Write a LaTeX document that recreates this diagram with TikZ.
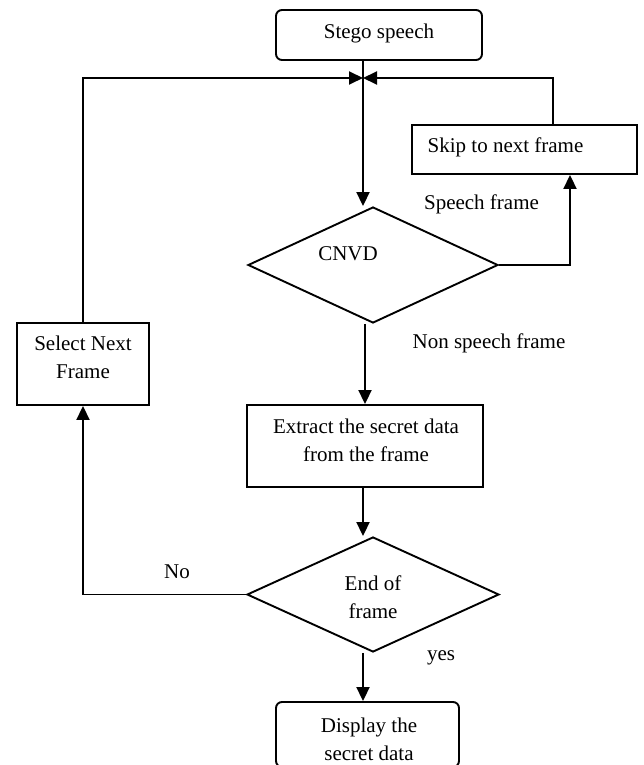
\documentclass[tikz,border=0pt]{standalone}
\usepackage{fontspec}
\setmainfont{Liberation Serif}
\usetikzlibrary{shapes.geometric,arrows.meta}
\begin{document}
\begin{tikzpicture}[x=1pt,y=-1pt,
  line width=1.9pt,
  box/.style={draw,rectangle,inner sep=0pt},
  rbox/.style={draw,rectangle,rounded corners=6pt,inner sep=0pt},
  dia/.style={draw,diamond,inner sep=0pt},
  txt/.style={font=\fontsize{21}{28}\selectfont,align=center,inner sep=0pt},
  arr/.style={-{Triangle[length=14pt,width=13pt]}}]
\useasboundingbox (0,0) rectangle (644,765);
\clip (0,0) rectangle (644,765);

\node[rbox,minimum width=206pt,minimum height=50pt] (stego) at (379,35) {};
\node[box,minimum width=225pt,minimum height=49pt] (skip) at (524.5,149.5) {};
\node[box,minimum width=132pt,minimum height=82pt] (select) at (83,364) {};
\node[box,minimum width=236pt,minimum height=82pt] (extract) at (365,446) {};
\node[rbox,minimum width=183pt,minimum height=65pt] (display) at (367.5,734.5) {};
\node[dia,minimum width=250pt,minimum height=116pt] (cnvd) at (373,265) {};
\node[dia,minimum width=252pt,minimum height=115pt] (end) at (373,594.5) {};
\coordinate (j) at (363,78);

\node[txt] (stegot) at (379,33) {Stego speech};
\node[txt] (skipt) at (505.5,147) {Skip to next frame};
\node[txt] (selectt) at (83,357.5) {Select Next\\Frame};
\node[txt] (extractt) at (366,440) {Extract the secret data\\from the frame};
\node[txt] (displayt) at (369,739) {Display the\\secret data};
\node[txt] (cnvdt) at (348,254) {CNVD};
\node[txt] (endt) at (373,597) {End of\\frame};
\node[txt] (speecht) at (481.5,204) {Speech frame};
\node[txt] (nonspt) at (489,343) {Non speech frame};
\node[txt] (not) at (177,572) {No};
\node[txt] (yest) at (441,658) {yes};

\draw[arr] (j |- stego.south) -- (j |- cnvd.north);
\draw[arr] (select.north) |- (j);
\draw[arr] ([xshift=28.5pt]skip.north) |- (j);
\draw[arr] (cnvd.east) -| ([xshift=45.5pt]skip.south);
\draw[arr] (extract.north |- cnvd.south) -- (extract.north);
\draw[arr] (j |- extract.south) -- (j |- end.north);
\draw[arr] (j |- end.south) -- (j |- display.north);
\draw[arr] (end.west) -| (select.south);
\end{tikzpicture}
\end{document}
